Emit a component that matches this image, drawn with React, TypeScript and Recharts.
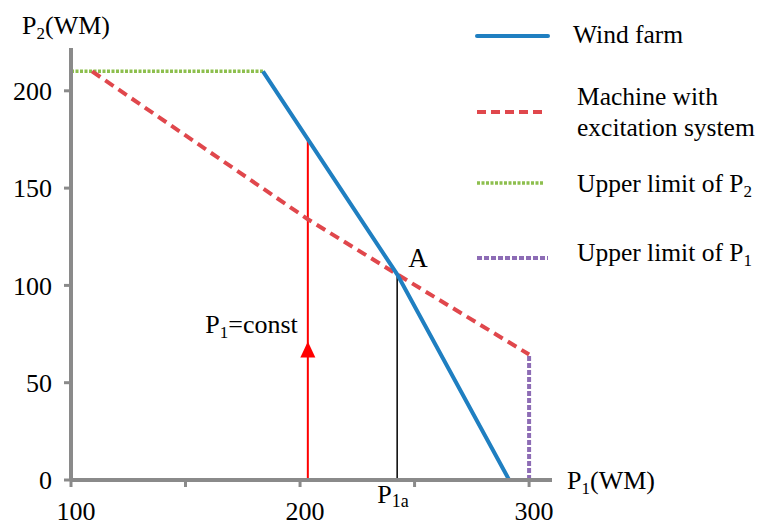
import React from "react";
import {
  ComposedChart,
  Line,
  Scatter,
  XAxis,
  YAxis,
  ReferenceDot,
  Legend,
} from "recharts";

const windFarm = [
  { x: 183.8, y: 210 },
  { x: 242.4, y: 105.7 },
  { x: 291.3, y: 0 },
];
const excitation = [
  { x: 109.2, y: 210 },
  { x: 203.4, y: 134 },
  { x: 242.4, y: 105.7 },
  { x: 300, y: 64.5 },
];
const limitP2 = [
  { x: 100, y: 210 },
  { x: 183.8, y: 210 },
];
const limitP1 = [
  { x: 300, y: 0 },
  { x: 300, y: 64.5 },
];
const constP1 = [
  { x: 203.4, y: 0 },
  { x: 203.4, y: 176 },
];
const pointA = [
  { x: 242.4, y: 0 },
  { x: 242.4, y: 105.7 },
];
const arrow = [{ x: 203.4, y: 67 }];

const xTicks = [100, 150, 200, 250, 300];
const xLabels = [100, 200, 300];
const yTicks = [0, 50, 100, 150, 200];

const font = "'Liberation Serif', 'Times New Roman', serif";
const gray = "#8a8a8a";
const blue = "#1f7fc1";
const red = "#e0474c";
const green = "#8dbf4e";
const purple = "#8d6cb5";

const XTick = (props: any) => {
  const { x, y, payload } = props;
  if (!xLabels.includes(payload.value)) return <g />;
  return (
    <text x={x + 5} y={y + 31} textAnchor="middle" fontSize={26} fontFamily={font} fill="#000">
      {payload.value}
    </text>
  );
};

const LegendBox = () => (
  <svg width={301} height={290} style={{ fontFamily: font, fontSize: 25.5 }}>
    <line x1={17} y1={36} x2={88} y2={36} stroke={blue} strokeWidth={4} strokeLinecap="round" />
    <text x={113} y={43}>Wind farm</text>
    <line x1={17} y1={112} x2={83} y2={112} stroke={red} strokeWidth={4} strokeDasharray="9 5" />
    <text x={117} y={105}>Machine with</text>
    <text x={117} y={136}>excitation system</text>
    <line x1={17} y1={183} x2={84} y2={183} stroke={green} strokeWidth={3.5} strokeDasharray="3 1.5" />
    <text x={117} y={192}>
      Upper limit of P<tspan fontSize={17} dy={5}>2</tspan>
    </text>
    <line x1={17} y1={258} x2={88} y2={258} stroke={purple} strokeWidth={4} strokeDasharray="5 2" />
    <text x={117} y={261}>
      Upper limit of P<tspan fontSize={17} dy={5}>1</tspan>
    </text>
  </svg>
);

const txt = { fontFamily: font, fontSize: 26, fill: "#000" };

export default function App() {
  return (
    <div style={{ position: "absolute", left: 0, top: 0, background: "#fff" }}>
      <ComposedChart
        width={761}
        height={526}
        margin={{ top: 48, right: 209, bottom: 0, left: 0 }}
      >
        <XAxis
          type="number"
          dataKey="x"
          domain={[100, 310]}
          ticks={xTicks}
          allowDataOverflow
          height={46}
          tickSize={7}
          axisLine={{ stroke: gray, strokeWidth: 4 }}
          tickLine={{ stroke: gray, strokeWidth: 3 }}
          tick={<XTick />}
        />
        <YAxis
          type="number"
          dataKey="y"
          domain={[0, 222]}
          ticks={yTicks}
          allowDataOverflow
          width={71}
          tickSize={7}
          tickMargin={12}
          axisLine={{ stroke: gray, strokeWidth: 4 }}
          tickLine={{ stroke: gray, strokeWidth: 3 }}
          tick={{ fill: "#000", fontSize: 26, fontFamily: font }}
        />
        <Legend
          layout="vertical"
          align="center"
          verticalAlign="middle"
          wrapperStyle={{ position: "absolute", left: 460, top: 0, width: 301, height: 290 }}
          content={() => <LegendBox />}
        />
        <Line data={limitP2} dataKey="y" type="linear" stroke={green} strokeWidth={3.5} strokeDasharray="3 1.5" dot={false} isAnimationActive={false} />
        <Line data={constP1} dataKey="y" type="linear" stroke="#ff0000" strokeWidth={2} dot={false} isAnimationActive={false} />
        <Line data={pointA} dataKey="y" type="linear" stroke="#000" strokeWidth={1.5} dot={false} isAnimationActive={false} />
        <Line data={limitP1} dataKey="y" type="linear" stroke={purple} strokeWidth={4} strokeDasharray="5 2" dot={false} isAnimationActive={false} />
        <Line data={excitation} dataKey="y" type="linear" stroke={red} strokeWidth={4} strokeDasharray="10 6" dot={false} isAnimationActive={false} />
        <Line data={windFarm} dataKey="y" type="linear" stroke={blue} strokeWidth={4} dot={false} isAnimationActive={false} />
        <Scatter
          data={arrow}
          dataKey="y"
          isAnimationActive={false}
          shape={(p: any) => (
            <path d={`M${p.cx},${p.cy - 8} L${p.cx + 7.5},${p.cy + 8} L${p.cx - 7.5},${p.cy + 8} Z`} fill="#ff0000" />
          )}
        />
        <ReferenceDot
          x={242.4}
          y={105.7}
          r={0}
          ifOverflow="visible"
          shape={(p: any) => (
            <text x={p.cx + 11} y={p.cy - 7} {...txt} fontSize={27}>A</text>
          )}
        />
        <ReferenceDot
          x={203.4}
          y={75.3}
          r={0}
          ifOverflow="visible"
          shape={(p: any) => (
            <text x={p.cx - 10} y={p.cy} textAnchor="end" {...txt}>
              P<tspan fontSize={17} dy={5}>1</tspan><tspan dy={-5}>=const</tspan>
            </text>
          )}
        />
        <ReferenceDot
          x={242.4}
          y={0}
          r={0}
          ifOverflow="visible"
          shape={(p: any) => (
            <text x={p.cx - 20} y={p.cy + 23} {...txt}>
              P<tspan fontSize={18} dy={4}>1a</tspan>
            </text>
          )}
        />
        <ReferenceDot
          x={310}
          y={0}
          r={0}
          ifOverflow="visible"
          shape={(p: any) => (
            <text x={p.cx + 15} y={p.cy + 9} {...txt}>
              P<tspan fontSize={17} dy={5}>1</tspan><tspan dy={-5}>(WM)</tspan>
            </text>
          )}
        />
        <ReferenceDot
          x={100}
          y={222}
          r={0}
          ifOverflow="visible"
          shape={(p: any) => (
            <text x={p.cx - 49} y={p.cy - 14} {...txt}>
              P<tspan fontSize={17} dy={5}>2</tspan><tspan dy={-5}>(WM)</tspan>
            </text>
          )}
        />
      </ComposedChart>
    </div>
  );
}
